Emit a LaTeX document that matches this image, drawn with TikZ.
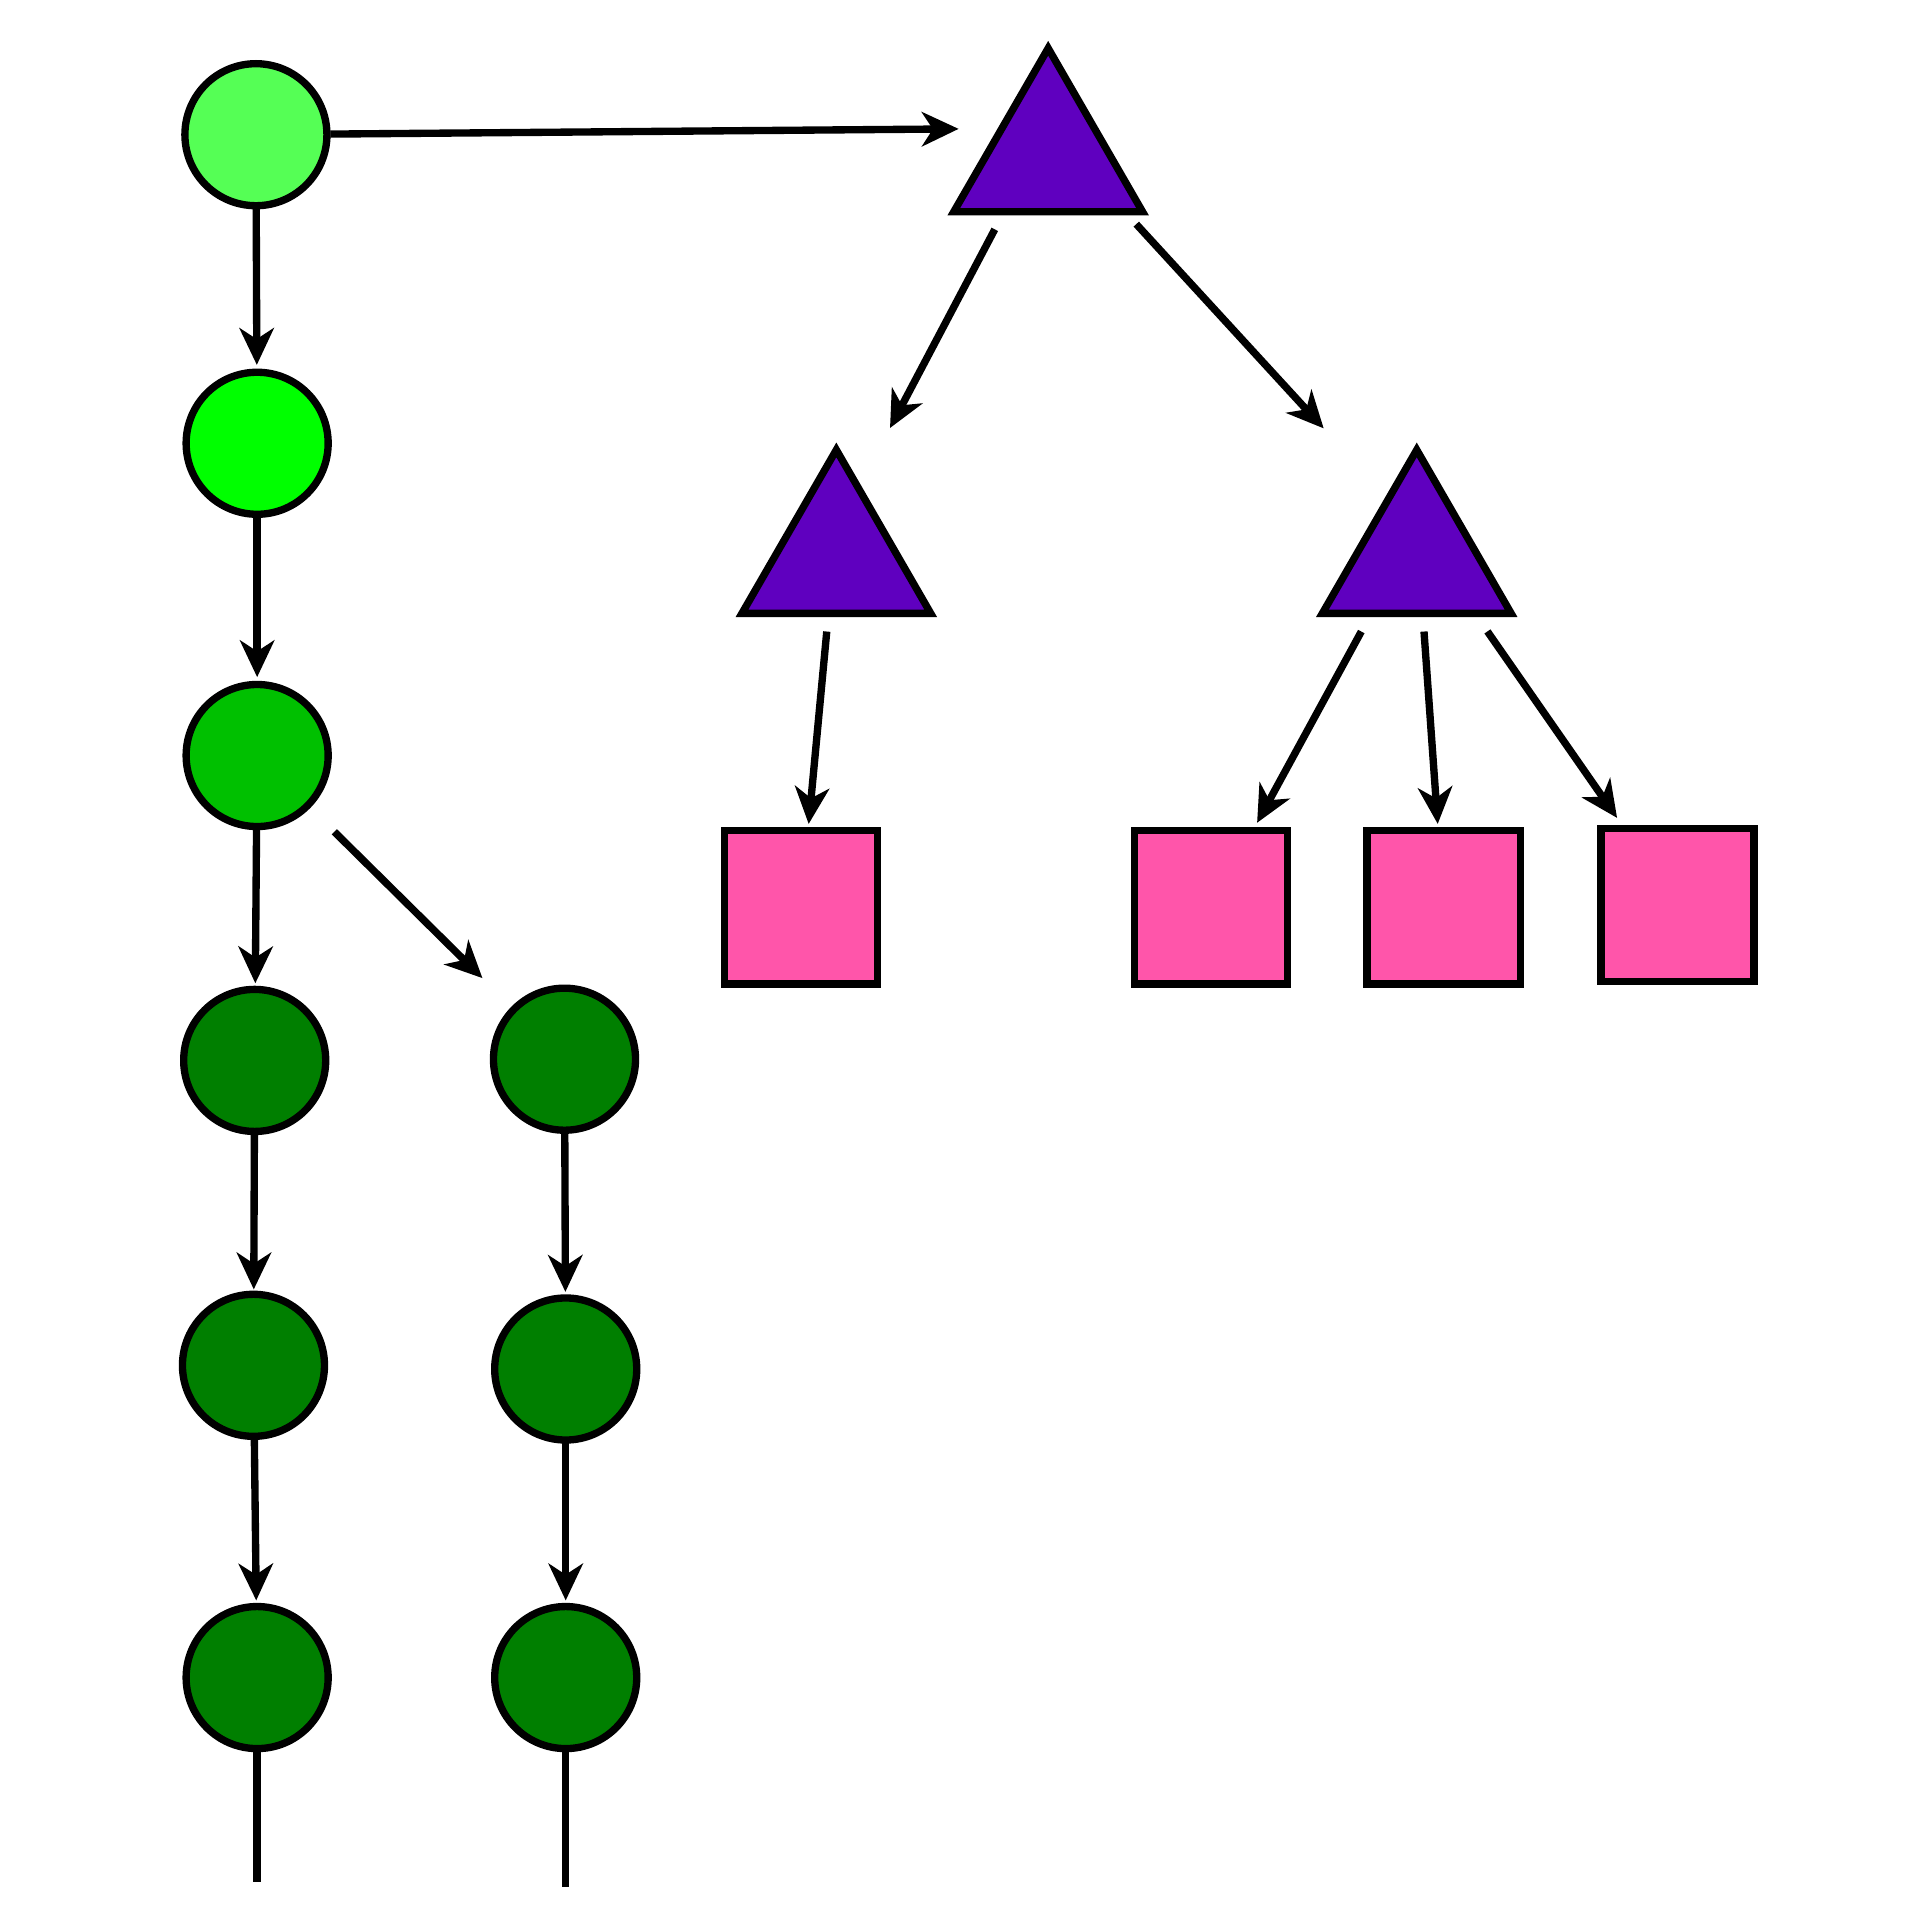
\documentclass[tikz,border=0pt]{standalone}
\usetikzlibrary{arrows.meta,calc,shapes.geometric}
\definecolor{gA}{HTML}{55FF55}
\definecolor{gB}{HTML}{00FF00}
\definecolor{gC}{HTML}{00C000}
\definecolor{gD}{HTML}{007F00}
\definecolor{triC}{HTML}{5F00BF}
\definecolor{sqC}{HTML}{FF55AA}
\begin{document}
\begin{tikzpicture}[x=1pt,y=-1pt,line width=6pt,
  circ/.style={circle,draw=black,minimum size=116pt,inner sep=0pt},
  tri/.style={regular polygon,regular polygon sides=3,draw=black,fill=triC,minimum size=178pt,inner sep=0pt},
  sq/.style={rectangle,draw=black,fill=sqC,minimum size=125pt,inner sep=0pt},
  arr/.style={-{Stealth[length=30pt,width=28pt,inset=9pt]}}]
\useasboundingbox (0,0) rectangle (1568,1568);
% circles
\node[circ,fill=gA] (C1) at (209,110) {};
\node[circ,fill=gB] (C2) at (210,362) {};
\node[circ,fill=gC] (C3) at (210,617) {};
\node[circ,fill=gD] (C4) at (208,866) {};
\node[circ,fill=gD] (C5) at (207,1115) {};
\node[circ,fill=gD] (C6) at (210,1370) {};
\node[circ,fill=gD] (D1) at (461,865) {};
\node[circ,fill=gD] (D2) at (462,1118) {};
\node[circ,fill=gD] (D3) at (462,1370) {};
% triangles
\node[tri] (T1) at (856,128.4) {};
\node[tri] (T2) at (683,456.4) {};
\node[tri] (T3) at (1157,456.4) {};
\coordinate (t1c) at ($(T1.corner 1)!0.5!(T1.side 2)$);
\coordinate (t2c) at ($(T2.corner 1)!0.5!(T2.side 2)$);
\coordinate (t3c) at ($(T3.corner 1)!0.5!(T3.side 2)$);
% squares
\node[sq] (S1) at (654,741) {};
\node[sq] (S2) at (989,741) {};
\node[sq] (S3) at (1179,741) {};
\node[sq] (S4) at (1370,739) {};
% free ends
\coordinate (E1) at (210,1537);
\coordinate (E2) at (462,1541);
% connectors
\draw[arr] ($(C1)!0.094!(t1c)$) -- ($(C1)!0.887!(t1c)$);
\draw[arr] ($(C1)!0.238!(C2)$) -- ($(C1)!0.746!(C2)$);
\draw[arr] ($(C2)!0.235!(C3)$) -- ($(C2)!0.749!(C3)$);
\draw[arr] ($(C3)!0.241!(C4)$) -- ($(C3)!0.747!(C4)$);
\draw[arr] ($(C4)!0.245!(C5)$) -- ($(C4)!0.751!(C5)$);
\draw[arr] ($(C5)!0.239!(C6)$) -- ($(C5)!0.753!(C6)$);
\draw[arr] ($(C3)!0.251!(D1)$) -- ($(C3)!0.733!(D1)$);
\draw[arr] ($(D1)!0.241!(D2)$) -- ($(D1)!0.751!(D2)$);
\draw[arr] ($(D2)!0.238!(D3)$) -- ($(D2)!0.75!(D3)$);
\draw (C6) -- (E1);
\draw (D3) -- (E2);
\draw[arr] ($(t1c)!0.252!(t2c)$) -- ($(t1c)!0.7466!(t2c)$);
\draw[arr] ($(t1c)!0.239!(t3c)$) -- ($(t1c)!0.7475!(t3c)$);
\draw[arr] ($(t2c)!0.2695!(S1)$) -- ($(t2c)!0.779!(S1)$);
\draw[arr] ($(t3c)!0.2695!(S2)$) -- ($(t3c)!0.776!(S2)$);
\draw[arr] ($(t3c)!0.2695!(S3)$) -- ($(t3c)!0.779!(S3)$);
\draw[arr] ($(t3c)!0.271!(S4)$) -- ($(t3c)!0.768!(S4)$);
\end{tikzpicture}
\end{document}
